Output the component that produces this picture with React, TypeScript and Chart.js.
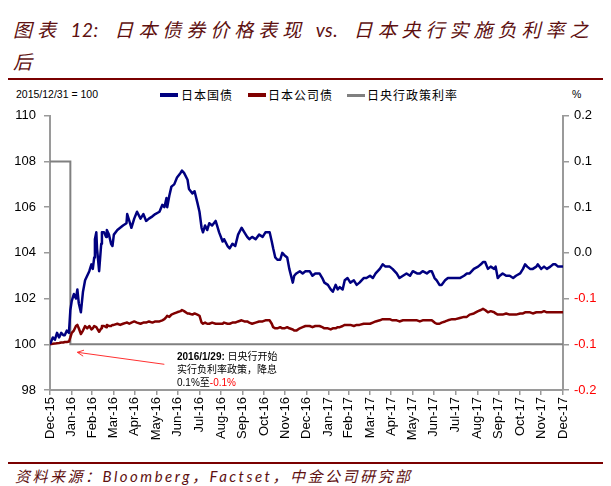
import { useEffect, useRef } from "react";
import { Chart, registerables } from "chart.js";
Chart.register(...registerables);

// ---------------- DATA ----------------
const dates = [
  "2015-12-31","2016-01-04","2016-01-07","2016-01-10","2016-01-13","2016-01-16","2016-01-19","2016-01-21","2016-01-24","2016-01-27",
  "2016-01-29","2016-01-31","2016-02-03","2016-02-06","2016-02-08","2016-02-10","2016-02-13","2016-02-16","2016-02-19","2016-02-22",
  "2016-02-25","2016-02-28","2016-03-01","2016-03-03","2016-03-04","2016-03-06","2016-03-07","2016-03-10","2016-03-13","2016-03-14",
  "2016-03-17","2016-03-20","2016-03-21","2016-03-24","2016-03-27","2016-03-29","2016-03-31","2016-04-05","2016-04-09","2016-04-13",
  "2016-04-18","2016-04-19","2016-04-22","2016-04-25","2016-04-29","2016-05-03","2016-05-08","2016-05-12","2016-05-16","2016-05-20",
  "2016-05-25","2016-05-29","2016-06-04","2016-06-08","2016-06-11","2016-06-14","2016-06-15","2016-06-18","2016-06-21","2016-06-25",
  "2016-06-29","2016-07-04","2016-07-06","2016-07-09","2016-07-14","2016-07-16","2016-07-21","2016-07-24","2016-07-28","2016-07-31",
  "2016-08-03","2016-08-05","2016-08-08","2016-08-11","2016-08-14","2016-08-18","2016-08-23","2016-08-25","2016-08-28","2016-09-02",
  "2016-09-04","2016-09-09","2016-09-12","2016-09-16","2016-09-20","2016-09-24","2016-09-29","2016-10-03","2016-10-07","2016-10-10",
  "2016-10-14","2016-10-19","2016-10-24","2016-10-29","2016-11-02","2016-11-08","2016-11-11","2016-11-13","2016-11-16","2016-11-19",
  "2016-11-23","2016-11-26","2016-11-29","2016-12-03","2016-12-06","2016-12-11","2016-12-13","2016-12-16","2016-12-21","2016-12-25",
  "2016-12-29","2017-01-04","2017-01-08","2017-01-12","2017-01-18","2017-01-22","2017-01-25","2017-01-30","2017-02-03","2017-02-06",
  "2017-02-10","2017-02-13","2017-02-16","2017-02-20","2017-02-23","2017-02-27","2017-03-03","2017-03-08","2017-03-12","2017-03-16",
  "2017-03-22","2017-03-26","2017-03-31","2017-04-04","2017-04-08","2017-04-14","2017-04-18","2017-04-22","2017-04-28","2017-05-02",
  "2017-05-08","2017-05-12","2017-05-17","2017-05-22","2017-05-27","2017-05-31","2017-06-06","2017-06-10","2017-06-14","2017-06-20",
  "2017-06-24","2017-06-27","2017-07-01","2017-07-04","2017-07-08","2017-07-11","2017-07-16","2017-07-20","2017-07-26","2017-07-31",
  "2017-08-06","2017-08-12","2017-08-16","2017-08-20","2017-08-26","2017-09-01","2017-09-05","2017-09-08","2017-09-11","2017-09-15",
  "2017-09-19","2017-09-24","2017-09-26","2017-09-29","2017-10-02","2017-10-06","2017-10-11","2017-10-16","2017-10-21","2017-10-25",
  "2017-10-31","2017-11-04","2017-11-07","2017-11-10","2017-11-14","2017-11-18","2017-11-23","2017-11-25","2017-11-30","2017-12-04",
  "2017-12-08","2017-12-13","2017-12-17","2017-12-20","2017-12-24","2017-12-28","2017-12-31",
];

// 日本国债 (index, 2015/12/31 = 100)
const jgbIndex = [
  100.0,100.3,100.2,100.5,100.3,100.5,100.4,100.4,100.6,100.5,
  101.5,101.9,102.2,102.0,102.4,101.8,101.4,102.3,102.8,103.0,
  103.2,103.5,103.3,103.8,104.6,104.9,104.2,103.2,104.4,104.9,
  104.9,104.7,105.0,104.8,104.4,104.3,104.8,105.0,105.1,105.2,
  105.3,105.7,105.4,105.1,105.5,105.8,105.5,105.7,105.4,105.5,
  105.6,105.7,105.8,106.1,106.0,106.4,106.0,106.5,106.9,107.0,
  107.3,107.5,107.6,107.5,107.2,106.8,106.6,106.7,106.2,105.8,
  105.1,104.9,105.2,105.0,105.3,105.2,105.4,105.2,104.9,104.5,
  104.6,104.3,104.2,104.4,104.3,104.8,105.1,104.9,104.7,104.6,
  104.7,104.6,104.8,104.7,104.9,104.9,104.5,104.2,103.8,103.7,
  103.7,104.0,103.9,103.8,103.3,102.7,103.0,103.1,103.2,103.1,
  103.2,103.2,103.0,103.1,103.1,102.9,102.7,102.6,102.4,102.3,
  102.6,102.4,102.5,102.4,102.8,102.9,102.7,102.8,102.6,102.7,
  102.9,102.9,103.0,102.9,103.1,103.3,103.5,103.4,103.4,103.3,
  103.1,102.9,103.0,103.1,103.0,103.2,103.1,103.1,103.2,103.1,
  103.2,103.2,102.9,102.8,102.6,102.6,102.8,102.9,102.9,102.9,
  102.9,103.0,103.1,103.1,103.3,103.4,103.5,103.6,103.6,103.3,
  103.4,103.3,103.4,102.9,103.0,103.1,103.0,103.0,102.9,103.0,
  103.1,103.3,103.5,103.4,103.3,103.3,103.4,103.5,103.3,103.4,
  103.3,103.4,103.5,103.5,103.4,103.4,103.4,
];

// 日本公司债 (index, 2015/12/31 = 100)
const corpIndex = [
  100.0,100.02,100.03,100.05,100.06,100.08,100.08,100.1,100.1,100.12,
  100.3,100.5,100.6,100.8,100.85,100.7,100.45,100.6,100.8,100.7,
  100.8,100.65,100.7,100.8,100.8,100.75,100.7,100.55,100.7,100.8,
  100.8,100.75,100.85,100.8,100.8,100.85,100.85,100.9,100.85,100.9,
  100.95,100.95,100.9,100.95,101.0,100.95,100.9,100.95,100.95,101.0,
  100.95,101.0,101.0,101.05,101.1,101.2,101.25,101.2,101.3,101.35,
  101.4,101.45,101.5,101.45,101.35,101.35,101.3,101.35,101.3,101.25,
  100.95,100.9,100.95,100.9,100.9,100.95,100.9,100.9,100.9,100.9,
  100.95,100.9,100.9,100.95,100.95,101.0,101.05,101.0,101.0,100.95,
  100.9,100.95,101.0,101.0,101.05,101.05,100.9,100.75,100.7,100.7,
  100.75,100.7,100.7,100.75,100.7,100.65,100.6,100.6,100.7,100.75,
  100.8,100.8,100.75,100.8,100.8,100.75,100.7,100.7,100.65,100.7,
  100.7,100.75,100.75,100.8,100.85,100.85,100.85,100.8,100.85,100.85,
  100.9,100.9,100.9,100.95,101.0,101.05,101.1,101.1,101.1,101.05,
  101.05,101.0,101.05,101.05,101.05,101.05,101.05,101.0,101.05,101.05,
  101.05,101.05,100.95,100.9,100.9,100.95,101.0,101.05,101.1,101.1,
  101.15,101.2,101.2,101.3,101.35,101.45,101.5,101.55,101.5,101.4,
  101.45,101.4,101.35,101.3,101.3,101.3,101.35,101.3,101.3,101.3,
  101.35,101.35,101.4,101.4,101.4,101.35,101.4,101.4,101.4,101.45,
  101.4,101.4,101.4,101.4,101.4,101.4,101.4,
];

// 日央行政策利率 (%)
const rateDates = ["2015-12-31", "2016-01-29", "2017-12-31"];
const policyRate = [0.1, -0.1, -0.1];

const monthTickDates = [
  "2015-12-31","2016-01-31","2016-02-29","2016-03-31","2016-04-30","2016-05-31","2016-06-30",
  "2016-07-31","2016-08-31","2016-09-30","2016-10-31","2016-11-30","2016-12-31","2017-01-31",
  "2017-02-28","2017-03-31","2017-04-30","2017-05-31","2017-06-30","2017-07-31","2017-08-31",
  "2017-09-30","2017-10-31","2017-11-30","2017-12-31",
];
const monthTickLabels = [
  "Dec-15","Jan-16","Feb-16","Mar-16","Apr-16","May-16","Jun-16","Jul-16","Aug-16","Sep-16",
  "Oct-16","Nov-16","Dec-16","Jan-17","Feb-17","Mar-17","Apr-17","May-17","Jun-17","Jul-17",
  "Aug-17","Sep-17","Oct-17","Nov-17","Dec-17",
];

const leftMin = 98, leftMax = 110, leftStep = 2;
const rightMin = -0.15, rightMax = 0.15, rightStep = 0.05;
const annotationDate = "2016-01-29";
const annotationLevel = 100;

// ---------------- HELPERS ----------------
const BASE = Date.UTC(2015, 11, 31);
const dayOf = (s: string) => {
  const [y, m, d] = s.split("-").map(Number);
  return (Date.UTC(y, m - 1, d) - BASE) / 86400000;
};
const monthTickDays = monthTickDates.map(dayOf);

const AXIS = "#9a9a9a";
const TICK_FONT = { family: "'Liberation Sans', Arial, sans-serif", size: 13 };

const fmtRight = (v: number) => {
  const a = Math.round(Math.abs(v) * 10 + 1e-6) / 10;
  if (a === 0) return "0.0";
  return (v < 0 ? "-" : "") + a.toFixed(1);
};

const arrowPlugin = {
  id: "annotArrow",
  afterDatasetsDraw(chart: any) {
    const xs = chart.scales.x, ys = chart.scales.y;
    const x0 = xs.getPixelForValue(dayOf(annotationDate));
    const y0 = ys.getPixelForValue(annotationLevel);
    const tip = { x: x0 + 7, y: y0 + 8 };
    const tail = { x: x0 + 94, y: y0 + 20 };
    const ctx = chart.ctx;
    ctx.save();
    ctx.strokeStyle = "#ff3030";
    ctx.lineWidth = 1;
    ctx.beginPath();
    ctx.moveTo(tail.x, tail.y);
    ctx.lineTo(tip.x, tip.y);
    const ang = Math.atan2(tail.y - tip.y, tail.x - tip.x);
    const L = 7;
    ctx.moveTo(tip.x + L * Math.cos(ang + 0.45), tip.y + L * Math.sin(ang + 0.45));
    ctx.lineTo(tip.x, tip.y);
    ctx.lineTo(tip.x + L * Math.cos(ang - 0.45), tip.y + L * Math.sin(ang - 0.45));
    ctx.stroke();
    ctx.restore();
  },
};

function ChartCanvas() {
  const ref = useRef<HTMLCanvasElement | null>(null);
  useEffect(() => {
    if (!ref.current) return;
    const chart = new Chart(ref.current, {
      type: "line",
      data: {
        datasets: [
          {
            label: "日本国债",
            data: dates.map((d, i) => ({ x: dayOf(d), y: jgbIndex[i] })),
            borderColor: "#000080",
            borderWidth: 2.5,
            yAxisID: "y",
            pointRadius: 0,
            borderJoinStyle: "round",
          },
          {
            label: "日本公司债",
            data: dates.map((d, i) => ({ x: dayOf(d), y: corpIndex[i] })),
            borderColor: "#800000",
            borderWidth: 2.5,
            yAxisID: "y",
            pointRadius: 0,
            borderJoinStyle: "round",
          },
          {
            label: "日央行政策利率",
            data: rateDates.map((d, i) => ({ x: dayOf(d), y: policyRate[i] })),
            borderColor: "#808080",
            borderWidth: 2,
            yAxisID: "y1",
            pointRadius: 0,
            stepped: true,
          },
        ],
      },
      options: {
        animation: false,
        responsive: true,
        maintainAspectRatio: false,
        layout: { padding: { top: 15, left: 0, right: 0, bottom: 0 } },
        plugins: { legend: { display: false }, tooltip: { enabled: false } },
        elements: { line: { tension: 0 } },
        scales: {
          x: {
            type: "linear",
            min: monthTickDays[0],
            max: monthTickDays[monthTickDays.length - 1],
            afterBuildTicks: (s: any) => {
              s.ticks = monthTickDays.map((v) => ({ value: v }));
            },
            afterFit: (s: any) => {
              s.height = 60;
            },
            ticks: {
              autoSkip: false,
              maxRotation: 90,
              minRotation: 90,
              padding: 2,
              color: "#000",
              font: TICK_FONT,
              callback: (v: any) => {
                const i = monthTickDays.indexOf(Number(v));
                return i >= 0 ? monthTickLabels[i] : "";
              },
            },
            grid: { drawOnChartArea: false, tickLength: 5, color: AXIS, lineWidth: 1.5 },
            border: { color: AXIS, width: 2 },
          },
          y: {
            position: "left",
            min: leftMin,
            max: leftMax,
            afterFit: (s: any) => {
              s.width = 50;
            },
            ticks: { stepSize: leftStep, padding: 8, color: "#000", font: TICK_FONT },
            grid: { drawOnChartArea: false, tickLength: 6, color: AXIS, lineWidth: 1.5 },
            border: { color: AXIS, width: 2 },
          },
          y1: {
            position: "right",
            min: rightMin,
            max: rightMax,
            afterFit: (s: any) => {
              s.width = 48;
            },
            ticks: {
              stepSize: rightStep,
              padding: 5,
              font: TICK_FONT,
              color: (c: any) => (c.tick && c.tick.value < -1e-9 ? "#ff0000" : "#000"),
              callback: (v: any) => fmtRight(Number(v)),
            },
            grid: { drawOnChartArea: false, tickLength: 6, color: AXIS, lineWidth: 1.5 },
            border: { color: AXIS, width: 2 },
          },
        },
      },
      plugins: [arrowPlugin],
    } as any);
    return () => chart.destroy();
  }, []);
  return <canvas ref={ref} />;
}

const titleColor = "#5e1010";
const ruleColor = "#7a0000";
const cjkSans = "'Noto Sans CJK SC', sans-serif";

export default function App() {
  const lat = { letterSpacing: 0.5 };
  return (
    <div
      style={{
        position: "absolute",
        left: 0,
        top: 0,
        width: 611,
        height: 486,
        background: "#fff",
        overflow: "hidden",
        fontFamily: "'Liberation Sans', Arial, sans-serif",
      }}
    >
      <div
        style={{
          position: "absolute",
          left: 13,
          top: 14,
          width: 600,
          fontFamily: "Lato, " + cjkSans,
          fontStyle: "italic",
          fontSize: 19,
          letterSpacing: 5,
          lineHeight: "32px",
          color: titleColor,
          whiteSpace: "nowrap",
        }}
      >
        图表 <span style={lat}>12:</span>
        <span style={{ marginLeft: 6 }}> 日本债券价格表现 </span>
        <span style={lat}>vs.</span>
        <span style={{ marginLeft: 6 }}> 日本央行实施负利率之</span>
        <br />后
      </div>
      <div style={{ position: "absolute", left: 8, top: 78, width: 595, height: 2, background: ruleColor }} />

      <div style={{ position: "absolute", left: 16, top: 88, fontSize: 10.5, color: "#000", whiteSpace: "nowrap" }}>
        2015/12/31 = 100
      </div>
      <div style={{ position: "absolute", left: 572, top: 88, fontSize: 10.5, color: "#000" }}>%</div>

      {[
        { l: 160, tl: 181, c: "#000080", h: 4, t: "日本国债" },
        { l: 248, tl: 268, c: "#800000", h: 4, t: "日本公司债" },
        { l: 347, tl: 367, c: "#808080", h: 3, t: "日央行政策利率" },
      ].map((it) => (
        <div key={it.t}>
          <div style={{ position: "absolute", left: it.l, top: 95 - it.h / 2, width: 18, height: it.h, background: it.c }} />
          <div
            style={{
              position: "absolute",
              left: it.tl,
              top: 86,
              fontFamily: cjkSans,
              fontSize: 12,
              letterSpacing: 1,
              lineHeight: "18px",
              color: "#000",
              whiteSpace: "nowrap",
            }}
          >
            {it.t}
          </div>
        </div>
      ))}

      <div style={{ position: "absolute", left: 0, top: 100, width: 611, height: 350 }}>
        <ChartCanvas />
      </div>

      <div
        style={{
          position: "absolute",
          left: 177,
          top: 350,
          fontSize: 10,
          lineHeight: "13px",
          color: "#000",
          fontFamily: "'Liberation Sans', Arial, " + cjkSans,
          whiteSpace: "nowrap",
        }}
      >
        <div>
          <b>2016/1/29:</b> 日央行开始
        </div>
        <div>实行负利率政策，降息</div>
        <div>
          0.1%至<span style={{ color: "#ff0000" }}>-0.1%</span>
        </div>
      </div>

      <div style={{ position: "absolute", left: 8, top: 462, width: 595, height: 2, background: ruleColor }} />
      <div
        style={{
          position: "absolute",
          left: 15,
          top: 466,
          fontFamily: "Lato, " + cjkSans,
          fontStyle: "italic",
          fontSize: 15,
          letterSpacing: 2.5,
          lineHeight: "20px",
          color: titleColor,
          whiteSpace: "nowrap",
        }}
      >
        资料来源：Bloomberg，Factset，中金公司研究部
      </div>
    </div>
  );
}
